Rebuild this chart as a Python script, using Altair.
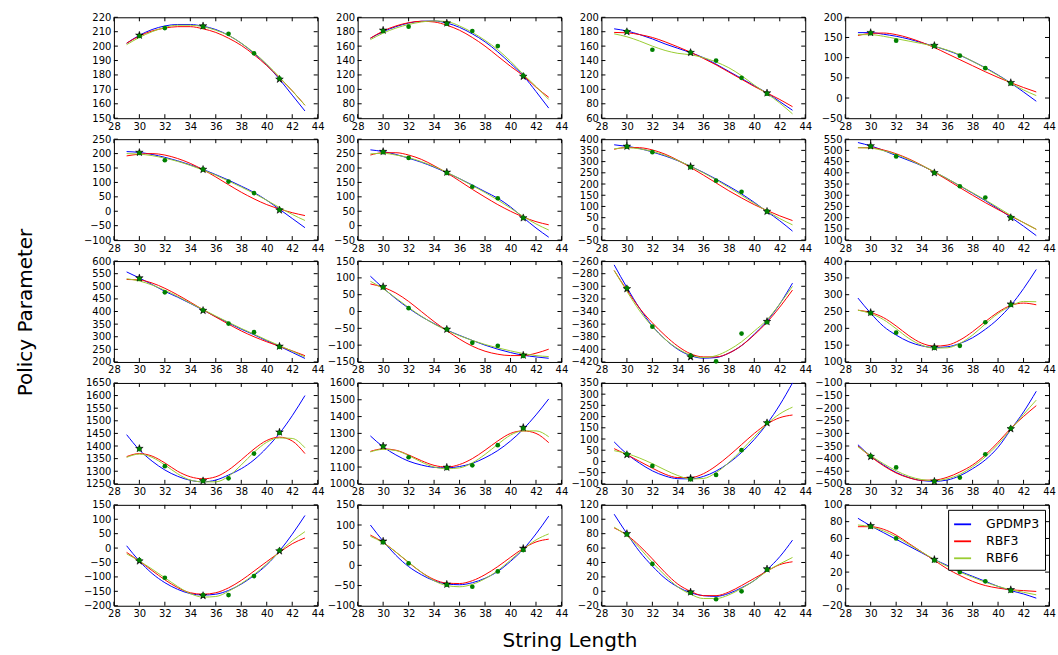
import altair as alt
import pandas as pd

SERIES = ["GPDMP3", "RBF3", "RBF6"]
COLORS = ["#0000ff", "#ff0000", "#9acd32"]
X_GRID = list(range(29, 44))
X_TICKS = list(range(28, 45, 2))
DOT_X = [30, 32, 35, 37, 39, 41]
STAR_X = [30, 35, 41]

# y axis range per panel (row-major, 5 rows x 4 columns): min, max, step
Y_MIN = [150, 60, 60, -50,
         -100, -50, -50, 100,
         200, -150, -420, 100,
         1250, 1000, -100, -500,
         -200, -100, -20, -20]
Y_MAX = [220, 200, 200, 200,
         250, 300, 400, 550,
         600, 150, -260, 400,
         1650, 1600, 350, -100,
         150, 150, 120, 100]
Y_STEP = [10, 20, 20, 50,
          50, 50, 50, 50,
          50, 50, 20, 50,
          50, 100, 50, 50,
          50, 50, 20, 20]

GPDMP3 = [
    [202, 207.5, 211.5, 214, 215, 215, 213.8, 211.5, 207.5, 202, 195, 187, 177, 166, 155],
    [171, 180, 187, 192, 194.5, 195, 192, 186, 177, 166, 152, 136, 119, 97, 74],
    [184, 181, 176, 170, 163, 157, 151, 144, 135, 125, 115, 105, 95, 83, 71],
    [162, 162, 158, 153, 146, 137, 128, 118, 106, 91, 75, 57, 37, 15, -8],
    [207, 204, 197, 187, 175, 161, 145, 127, 108, 87, 65, 38, 7, -25, -57],
    [263, 257, 247, 234, 220, 203, 184, 163, 141, 118, 95, 65, 28, -8, -40],
    [375, 368, 358, 343, 325, 304, 279, 252, 222, 190, 156, 118, 77, 36, -10],
    [535, 520, 500, 477, 455, 432, 404, 374, 342, 309, 276, 240, 202, 162, 120],
    [557, 533, 507, 480, 457, 432, 406, 380, 355, 330, 308, 284, 262, 238, 214],
    [105, 70, 38, 10, -15, -36, -55, -71, -86, -100, -112, -122, -130, -135, -139],
    [-266, -302, -335, -363, -384, -400, -410, -414, -413, -406, -394, -376, -355, -328, -295],
    [290, 245, 206, 180, 160, 148, 143, 145, 155, 172, 197, 228, 268, 318, 375],
    [1445, 1385, 1340, 1305, 1280, 1264, 1258, 1265, 1285, 1310, 1345, 1393, 1450, 1520, 1600],
    [1285, 1220, 1172, 1135, 1112, 1098, 1095, 1103, 1122, 1155, 1198, 1255, 1325, 1410, 1505],
    [87, 33, -8, -42, -65, -77, -78, -67, -43, -7, 40, 98, 168, 252, 350],
    [-345, -390, -425, -455, -475, -487, -490, -485, -468, -440, -405, -355, -285, -215, -133],
    [8, -45, -88, -120, -143, -158, -163, -160, -147, -125, -95, -58, -10, 48, 113],
    [100, 60, 25, -3, -23, -38, -46, -48, -43, -32, -15, 10, 40, 78, 122],
    [107, 80, 55, 35, 18, 6, -2, -6, -7, -3, 5, 15, 30, 48, 71],
    [84, 75, 67, 59, 51, 43, 35, 28, 21, 15, 9, 3, -2, -6, -11],
]

RBF3 = [
    [202, 207, 210.5, 212.5, 213.5, 213.5, 212, 209.5, 205.5, 200.5, 194, 186.5, 178, 169, 159],
    [171, 181, 188, 192.5, 194.5, 193.5, 189, 182, 172, 160, 146, 132, 119, 103, 89],
    [179, 178.5, 176, 172, 166, 159, 151.5, 143, 134, 124, 114, 104, 95, 86, 76],
    [155, 160, 161, 157, 149, 138, 125, 110, 95, 80, 65, 51, 38, 26, 15],
    [192, 198, 200, 195, 183, 166, 144, 119, 92, 66, 43, 23, 8, -5, -15],
    [245, 253, 253, 245, 230, 208, 183, 155, 126, 99, 73, 50, 30, 14, 3],
    [355, 363, 362, 352, 333, 306, 274, 240, 205, 170, 138, 108, 82, 58, 37],
    [512, 512, 502, 485, 462, 434, 403, 369, 334, 300, 267, 236, 207, 178, 148],
    [527, 525, 513, 492, 466, 437, 407, 378, 350, 323, 300, 280, 262, 244, 225],
    [82, 72, 55, 30, 0, -30, -57, -82, -103, -118, -127, -131, -131, -124, -112],
    [-275, -306, -335, -358, -378, -395, -407, -412, -412, -406, -394, -377, -357, -333, -306],
    [254, 247, 232, 207, 178, 156, 147, 150, 165, 190, 220, 248, 268, 275, 270],
    [1358, 1370, 1360, 1333, 1300, 1278, 1270, 1278, 1305, 1345, 1388, 1422, 1435, 1420, 1370],
    [1193, 1208, 1200, 1172, 1138, 1110, 1100, 1115, 1150, 1200, 1255, 1300, 1315, 1300, 1245],
    [57, 30, 0, -30, -57, -72, -72, -55, -20, 25, 75, 125, 167, 195, 207],
    [-350, -392, -428, -457, -476, -486, -485, -474, -453, -425, -385, -335, -280, -233, -190],
    [-15, -45, -78, -110, -137, -155, -160, -155, -138, -112, -80, -47, -15, 15, 35],
    [75, 57, 33, 7, -17, -35, -44, -45, -38, -23, -3, 20, 42, 58, 65],
    [88, 78, 63, 45, 26, 10, 0, -6, -6, -1, 8, 18, 28, 37, 41],
    [74, 74, 71, 64, 54, 44, 34, 24, 16, 9, 4, 1, -1, -2, -3],
]

RBF6 = [
    [201, 206, 210, 213, 214.5, 214.5, 213.5, 211, 207.5, 202, 195.5, 187.5, 178.5, 169, 159],
    [169, 178, 185, 190, 193.5, 195, 194, 188, 179, 168, 155, 139, 121, 104, 86],
    [177, 173, 167, 160, 154, 150, 148, 144, 138, 130, 119, 106, 94, 81, 66],
    [157, 157, 153, 147, 141, 135, 128, 119, 107, 91, 74, 56, 37, 20, 6],
    [200, 198, 193, 184, 173, 159, 143, 125, 105, 84, 62, 38, 13, -11, -32],
    [249, 251, 245, 236, 222, 205, 185, 163, 139, 115, 89, 61, 32, 6, -15],
    [357, 362, 357, 345, 328, 305, 279, 250, 219, 185, 150, 114, 79, 46, 18],
    [512, 510, 499, 482, 459, 433, 405, 374, 343, 311, 279, 245, 210, 178, 148],
    [530, 521, 505, 484, 460, 433, 408, 382, 357, 333, 310, 287, 265, 243, 220],
    [90, 68, 40, 12, -14, -37, -56, -72, -86, -98, -108, -117, -125, -131, -134],
    [-275, -308, -339, -364, -384, -399, -409, -413, -410, -401, -388, -371, -353, -328, -300],
    [254, 244, 226, 199, 170, 150, 141, 142, 155, 180, 213, 244, 266, 280, 279],
    [1355, 1368, 1355, 1325, 1290, 1265, 1258, 1258, 1280, 1325, 1375, 1415, 1432, 1430, 1393],
    [1190, 1205, 1198, 1168, 1130, 1100, 1090, 1095, 1125, 1175, 1235, 1290, 1315, 1315, 1280],
    [48, 35, 15, -10, -38, -63, -78, -76, -50, -5, 50, 110, 167, 212, 242],
    [-353, -388, -420, -448, -470, -483, -487, -480, -462, -432, -393, -343, -285, -225, -168],
    [-20, -45, -73, -103, -133, -158, -170, -168, -150, -123, -92, -55, -13, 25, 57],
    [72, 56, 33, 8, -17, -38, -50, -53, -47, -33, -13, 13, 40, 63, 78],
    [89, 77, 60, 40, 22, 6, -4, -10, -10, -5, 4, 15, 28, 38, 47],
    [76, 74, 69, 62, 53, 44, 35, 27, 20, 14, 8, 3, -1, -4, -7],
]

DOTS = [
    [207, 212.5, 213.5, 208.5, 195, 177.5],
    [181, 187, 191, 181, 160, 119],
    [180, 155, 151, 140, 116, 94],
    [161, 142, 129, 105, 74, 36],
    [202, 177, 145, 103, 63, 5],
    [255, 235, 183, 135, 95, 27],
    [367, 342, 275, 215, 165, 78],
    [518, 473, 400, 340, 290, 200],
    [530, 476, 405, 352, 318, 260],
    [72, 10, -53, -93, -102, -132],
    [-303, -364, -410, -419, -375, -357],
    [245, 187, 142, 148, 218, 270],
    [1388, 1320, 1262, 1272, 1370, 1452],
    [1222, 1158, 1095, 1110, 1230, 1330],
    [32, -20, -80, -60, 50, 172],
    [-390, -435, -490, -475, -383, -280],
    [-42, -103, -163, -163, -97, -8],
    [57, 5, -48, -53, -15, 38],
    [79, 38, -2, -11, 0, 30],
    [74, 60, 34, 20, 9, -2],
]

STARS = [
    [207.5, 214, 177],
    [182, 192, 118],
    [180, 151, 95],
    [162, 130, 38],
    [204, 145, 4],
    [257, 185, 27],
    [368, 278, 78],
    [520, 400, 200],
    [533, 404, 262],
    [74, -53, -130],
    [-304, -412, -356],
    [247, 144, 272],
    [1390, 1262, 1455],
    [1225, 1098, 1335],
    [30, -75, 172],
    [-392, -490, -282],
    [-45, -165, -10],
    [60, -47, 42],
    [80, -1, 31],
    [75, 35, -1],
]

W, H = 204, 101
TICK = 4
STAR_PATH = ("M0,-1L0.2245,-0.309L0.951,-0.309L0.3633,0.118L0.5878,0.809L0,0.382"
             "L-0.5878,0.809L-0.3633,0.118L-0.951,-0.309L-0.2245,-0.309Z")
FONT = "DejaVu Sans"


def make_panel(i):
    lo, hi, st = Y_MIN[i], Y_MAX[i], Y_STEP[i]
    y_ticks = list(range(lo, hi + 1, st))
    xs = alt.Scale(domain=[28, 44], nice=False, zero=False)
    ys = alt.Scale(domain=[lo, hi], nice=False, zero=False)

    xaxis_kw = dict(values=X_TICKS, format="d", title=None)
    yaxis_kw = dict(values=y_ticks, format="d", title=None)
    if i == 17:
        xaxis_kw.update(title="String Length", titleX=212, titleY=35,
                        titleAlign="center", titleBaseline="middle",
                        titleFontSize=20, titleFont=FONT,
                        titleFontWeight="normal", titleColor="black")
    if i == 8:
        yaxis_kw.update(title="Policy Parameter", titleX=-88, titleY=51,
                        titleAngle=270, titleAlign="center",
                        titleBaseline="middle", titleFontSize=20,
                        titleFont=FONT, titleFontWeight="normal",
                        titleColor="black")
    X = alt.X("x:Q", scale=xs, axis=alt.Axis(**xaxis_kw))
    Y = alt.Y("y:Q", scale=ys, axis=alt.Axis(**yaxis_kw))

    rows = []
    for name, arr in zip(SERIES, [GPDMP3, RBF3, RBF6]):
        for xv, yv in zip(X_GRID, arr[i]):
            rows.append({"x": xv, "y": yv, "series": name})
    line_df = pd.DataFrame(rows)

    if i == 19:
        leg = alt.Legend(orient="none", legendX=103, legendY=5, title=None,
                         symbolType="stroke", symbolStrokeWidth=1.8,
                         symbolSize=289, labelFont=FONT, labelFontSize=12.5,
                         labelColor="black", labelOffset=14, padding=5,
                         rowPadding=1, strokeColor="black", fillColor="white",
                         cornerRadius=0)
    else:
        leg = None

    color = alt.Color("series:N",
                      scale=alt.Scale(domain=SERIES, range=COLORS),
                      legend=leg)

    lines = alt.Chart(line_df).mark_line(
        strokeWidth=1, interpolate="monotone"
    ).encode(x=X, y=Y, color=color)

    stars = alt.Chart(pd.DataFrame({"x": STAR_X, "y": STARS[i]})).mark_point(
        shape=STAR_PATH, size=64, filled=True, color="black", opacity=1,
        stroke="black", strokeWidth=0.5
    ).encode(x=X, y=Y)

    dots = alt.Chart(pd.DataFrame({"x": DOT_X, "y": DOTS[i]})).mark_circle(
        size=22, color="#008000", opacity=1
    ).encode(x=X, y=Y)

    xt = pd.DataFrame({"x": X_TICKS})
    yt = pd.DataFrame({"y": y_ticks})
    rule = dict(color="black", strokeWidth=1)
    tx_bottom = alt.Chart(xt).mark_rule(**rule).encode(
        x=X, y=alt.value(H), y2=alt.value(H - TICK))
    tx_top = alt.Chart(xt).mark_rule(**rule).encode(
        x=X, y=alt.value(0), y2=alt.value(TICK))
    ty_left = alt.Chart(yt).mark_rule(**rule).encode(
        y=Y, x=alt.value(0), x2=alt.value(TICK))
    ty_right = alt.Chart(yt).mark_rule(**rule).encode(
        y=Y, x=alt.value(W), x2=alt.value(W - TICK))

    return alt.layer(tx_bottom, tx_top, ty_left, ty_right, lines, stars, dots).properties(
        width=W, height=H)


panels = [make_panel(i) for i in range(20)]

chart = alt.concat(
    *panels, columns=4, spacing={"row": 21, "column": 40}, bounds="flush"
).resolve_scale(color="independent").resolve_legend(color="independent").properties(
    padding={"left": 15, "top": 11, "right": 2, "bottom": 2}
).configure(font=FONT, background="white").configure_view(
    stroke="black", strokeWidth=1
).configure_axis(
    domain=False, ticks=False, tickSize=0, grid=False,
    labelFont=FONT, labelFontSize=10, labelColor="black",
    labelFlush=False, labelOverlap=False, labelBound=False
).configure_axisX(labelPadding=3).configure_axisY(labelPadding=3)

chart.save("out.html", embed_options={"renderer": "svg", "actions": False})
